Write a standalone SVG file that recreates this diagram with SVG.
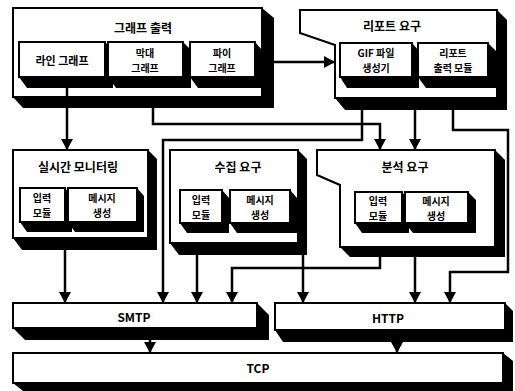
<svg xmlns="http://www.w3.org/2000/svg" width="515" height="391" viewBox="0 0 515 391">
<defs>
<style>
.box{fill:#fff;stroke:#000;stroke-width:2}
.sh{fill:#000}
.t{font-family:"Noto Sans CJK KR","Liberation Sans",sans-serif;font-weight:bold;font-size:10px;fill:#000;text-anchor:middle;dominant-baseline:central}
.tt{font-size:12px}
.c{fill:none;stroke:#000;stroke-width:2.5}
</style>
<marker id="ah" markerUnits="userSpaceOnUse" markerWidth="12" markerHeight="12" refX="11" refY="6" orient="auto">
<path d="M0,0 L11,6 L0,12 Z" fill="#000"/>
</marker>
</defs>
<rect width="515" height="391" fill="#fff"/>

<g id="graph-output">
<polygon class="sh" points="262,8 274,18 274,108 23,108 13,97"/>
<rect class="box" x="13" y="8" width="249" height="89"/>
<text class="t tt" x="143" y="27">그래프 출력</text>
<g id="line-graph">
<polygon class="sh" points="105,42 113,50 113,88 27,88 19,77"/>
<rect class="box" x="19" y="42" width="86" height="35"/>
<text class="t" x="62" y="60" style="font-size:11px">라인 그래프</text>
</g>
<g id="bar-graph">
<polygon class="sh" points="183,42 191,50 191,88 116,88 108,77"/>
<rect class="box" x="108" y="42" width="75" height="35"/>
<text class="t" x="145" y="52">막대</text>
<text class="t" x="145" y="67">그래프</text>
</g>
<g id="pie-graph">
<polygon class="sh" points="255,42 262,50 262,88 198,88 190,77"/>
<rect class="box" x="190" y="42" width="65" height="35"/>
<text class="t" x="222" y="52">파이</text>
<text class="t" x="222" y="67">그래프</text>
</g>
</g>

<g id="report-request">
<polygon class="sh" points="497,10 507,20 507,110 345,110 335,98"/>
<polygon class="box" points="300,10 497,10 497,98 335,98 335,45 300,33"/>
<text class="t tt" x="392" y="25">리포트 요구</text>
<g id="gif-gen">
<polygon class="sh" points="412,43 419,51 419,88 347,88 340,77"/>
<rect class="box" x="340" y="43" width="72" height="34"/>
<text class="t" x="376" y="52">GIF 파일</text>
<text class="t" x="376" y="67">생성기</text>
</g>
<g id="report-out">
<polygon class="sh" points="488,43 496,51 496,88 426,88 418,77"/>
<rect class="box" x="418" y="43" width="70" height="34"/>
<text class="t" x="453" y="52">리포트</text>
<text class="t" x="453" y="67">출력 모듈</text>
</g>
</g>

<g id="realtime-monitor">
<polygon class="sh" points="148,150 157,159 157,250 22,250 13,238"/>
<rect class="box" x="13" y="150" width="135" height="88"/>
<text class="t tt" x="78" y="166">실시간 모니터링</text>
<g id="rt-input">
<polygon class="sh" points="65,188 72,196 72,232 27,232 20,222"/>
<rect class="box" x="20" y="188" width="45" height="34"/>
<text class="t" x="42" y="197">입력</text>
<text class="t" x="42" y="212">모듈</text>
</g>
<g id="rt-msg">
<polygon class="sh" points="137,188 144,196 144,232 75,232 68,222"/>
<rect class="box" x="68" y="188" width="69" height="34"/>
<text class="t" x="102" y="197">메시지</text>
<text class="t" x="102" y="212">생성</text>
</g>
</g>

<g id="collect-request">
<polygon class="sh" points="298,150 307,159 307,255 179,255 170,243"/>
<rect class="box" x="170" y="150" width="128" height="93"/>
<text class="t tt" x="238" y="166">수집 요구</text>
<g id="col-input">
<polygon class="sh" points="222,190 229,198 229,233 187,233 180,223"/>
<rect class="box" x="180" y="190" width="42" height="33"/>
<text class="t" x="201" y="199">입력</text>
<text class="t" x="201" y="214">모듈</text>
</g>
<g id="col-msg">
<polygon class="sh" points="290,190 297,198 297,233 237,233 230,223"/>
<rect class="box" x="230" y="190" width="60" height="33"/>
<text class="t" x="260" y="199">메시지</text>
<text class="t" x="260" y="214">생성</text>
</g>
</g>

<g id="analysis-request">
<polygon class="sh" points="495,150 505,160 505,257 350,257 340,247"/>
<polygon class="box" points="317,150 495,150 495,247 340,247 340,185 317,175"/>
<text class="t tt" x="405" y="166">분석 요구</text>
<g id="an-input">
<polygon class="sh" points="402,192 409,200 409,233 362,233 355,223"/>
<rect class="box" x="355" y="192" width="47" height="31"/>
<text class="t" x="378" y="200">입력</text>
<text class="t" x="378" y="215">모듈</text>
</g>
<g id="an-msg">
<polygon class="sh" points="468,192 476,200 476,233 413,233 405,223"/>
<rect class="box" x="405" y="192" width="63" height="31"/>
<text class="t" x="436" y="200">메시지</text>
<text class="t" x="436" y="215">생성</text>
</g>
</g>

<g id="smtp">
<polygon class="sh" points="257,303 269,315 269,340 25,340 13,328"/>
<rect class="box" x="13" y="303" width="244" height="25"/>
<text class="t tt" x="134" y="316">SMTP</text>
</g>

<g id="http">
<polygon class="sh" points="505,303 513,311 513,342 283,342 275,330"/>
<rect class="box" x="275" y="303" width="230" height="27"/>
<text class="t tt" x="388" y="317">HTTP</text>
</g>

<g id="tcp">
<polygon class="sh" points="503,353 513,361 513,391 23,391 13,383"/>
<rect class="box" x="13" y="353" width="490" height="30"/>
<text class="t tt" x="258" y="367">TCP</text>
</g>

<g id="connectors">
<path class="c" marker-end="url(#ah)" d="M67,88 V150"/>
<path class="c" marker-end="url(#ah)" d="M153,108 V124 H380 V150"/>
<path class="c" marker-end="url(#ah)" d="M362,110 V140 H163 V303"/>
<path class="c" marker-end="url(#ah)" d="M415,110 V150"/>
<path class="c" marker-end="url(#ah)" d="M453,110 V130 H508 V272 H450 V303"/>
<path class="c" marker-end="url(#ah)" d="M274,62 H335"/>
<path class="c" marker-end="url(#ah)" d="M65,250 V303"/>
<path class="c" marker-end="url(#ah)" d="M197,255 V303"/>
<path class="c" marker-end="url(#ah)" d="M380,257 V268 H232 V303"/>
<path class="c" marker-end="url(#ah)" d="M303,255 V303"/>
<path class="c" marker-end="url(#ah)" d="M415,257 V303"/>
<path class="c" marker-end="url(#ah)" d="M150,340 V353"/>
<path class="c" marker-end="url(#ah)" d="M397,342 V353"/>
</g>
</svg>
